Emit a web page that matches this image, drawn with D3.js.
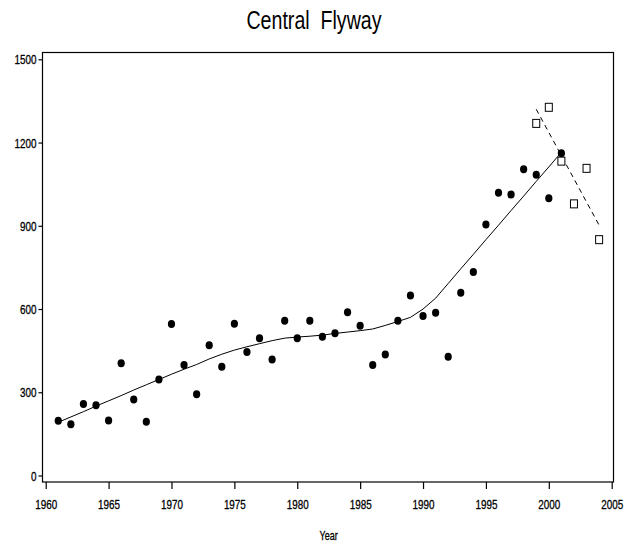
<!DOCTYPE html>
<html>
<head>
<meta charset="utf-8">
<script src="https://cdn.jsdelivr.net/npm/d3@7"></script>
<style>
  html, body { margin: 0; padding: 0; background: #fff; }
  svg { display: block; }
  .lbl { font-family: "Liberation Sans", Arial, sans-serif; fill: #000; }
</style>
</head>
<body>
<div id="chart"></div>
<script>
// Central Flyway: observed counts, smoothed trend, recent survey and its trend.
const years = d3.range(1961, 2002);
const counts = [197, 185, 258, 253, 198, 405, 274, 194, 346, 546,
  398, 293, 469, 392, 547, 445, 495, 418, 558, 495,
  558, 500, 513, 588, 540, 398, 436, 558, 649, 575,
  587, 428, 659, 733, 905, 1019, 1013, 1104, 1084, 999,
  1161];
const trend = [192, 211, 230, 250, 269, 288, 308, 327, 346, 365,
  383, 400, 420, 437, 452, 464, 475, 486, 495, 499,
  502, 506, 512, 517, 522, 528, 541, 555, 570, 600,
  639, 692, 745, 797, 850, 902, 955, 1007, 1060, 1112,
  1165];
const newYears = [1999, 2000, 2001, 2002, 2003, 2004];
const newCounts = [1269, 1327, 1133, 979, 1107, 850];
const newTrendYears = [1999, 2004];
const newTrend = [1320, 902];
const xTicks = [1960, 1965, 1970, 1975, 1980, 1985, 1990, 1995, 2000, 2005];
const yTicks = [0, 300, 600, 900, 1200, 1500];

const W = 636, H = 545;
const box = { left: 42.5, right: 613.5, top: 52.5, bottom: 482 };

const svg = d3.select('#chart').append('svg').attr('width', W).attr('height', H);

const x = d3.scaleLinear().domain([1960, 2005]).range([45.7, 611.7]);
const y = d3.scaleLinear().domain([0, 1500]).range([475.5, 59.3]);

// squeeze a text horizontally (the original uses a narrow face)
function narrow(sel, k) {
  sel.each(function () {
    const len = this.getComputedTextLength();
    d3.select(this).attr('textLength', len * k).attr('lengthAdjust', 'spacingAndGlyphs');
  });
}

// frame
svg.append('rect')
  .attr('x', box.left).attr('y', box.top)
  .attr('width', box.right - box.left).attr('height', box.bottom - box.top)
  .attr('fill', 'none').attr('stroke', '#000').attr('stroke-width', 1.2);

// y axis
const yAxis = svg.append('g')
  .attr('transform', `translate(${box.left},0)`)
  .call(d3.axisLeft(y).tickValues(yTicks).tickSize(4).tickPadding(2).tickFormat(d3.format('d')));
yAxis.select('.domain').remove();
yAxis.selectAll('line').attr('stroke', '#000').attr('stroke-width', 1.2);
yAxis.selectAll('text').attr('class', 'lbl').attr('font-size', 12.5).attr('dy', '0.36em')
  .attr('stroke', '#000').attr('stroke-width', 0.3)
  .call(narrow, 0.79);

// x axis
const xAxis = svg.append('g')
  .attr('transform', `translate(0,${box.bottom})`)
  .call(d3.axisBottom(x).tickValues(xTicks).tickSize(7).tickFormat(d3.format('d')));
xAxis.select('.domain').remove();
xAxis.selectAll('line').attr('stroke', '#000').attr('stroke-width', 1.2);
xAxis.selectAll('text').attr('class', 'lbl').attr('font-size', 12.5)
  .attr('y', 27).attr('dy', 0)
  .attr('stroke', '#000').attr('stroke-width', 0.3)
  .call(narrow, 0.79);

svg.append('text').attr('class', 'lbl')
  .attr('x', (x(1960) + x(2005)) / 2).attr('y', 540)
  .attr('text-anchor', 'middle').attr('font-size', 12.5)
  .attr('stroke', '#000').attr('stroke-width', 0.3)
  .text('Year')
  .call(narrow, 0.72);

svg.append('text').attr('class', 'lbl')
  .attr('x', 314).attr('y', 29)
  .attr('text-anchor', 'middle').attr('font-size', 26.5)
  .attr('xml:space', 'preserve')
  .text('Central  Flyway')
  .call(narrow, 0.74);

// smoothed trend
const line = d3.line().x(d => x(d[0])).y(d => y(d[1]));
svg.append('path')
  .datum(years.map((yr, i) => [yr, trend[i]]))
  .attr('d', line).attr('fill', 'none').attr('stroke', '#000').attr('stroke-width', 1);

// recent trend (dashed)
svg.append('path')
  .datum(newTrendYears.map((yr, i) => [yr, newTrend[i]]))
  .attr('d', line).attr('fill', 'none').attr('stroke', '#000').attr('stroke-width', 1)
  .attr('stroke-dasharray', '5,4');

// observed counts
svg.append('g').selectAll('ellipse')
  .data(years.map((yr, i) => [yr, counts[i]]))
  .join('ellipse')
  .attr('cx', d => x(d[0])).attr('cy', d => y(d[1]))
  .attr('rx', 3.6).attr('ry', 4)
  .attr('fill', '#000');

// recent survey
svg.append('g').selectAll('rect')
  .data(newYears.map((yr, i) => [yr, newCounts[i]]))
  .join('rect')
  .attr('x', d => x(d[0]) - 3.5).attr('y', d => y(d[1]) - 4)
  .attr('width', 7).attr('height', 8)
  .attr('fill', '#fff').attr('stroke', '#000').attr('stroke-width', 1);
</script>
</body>
</html>
